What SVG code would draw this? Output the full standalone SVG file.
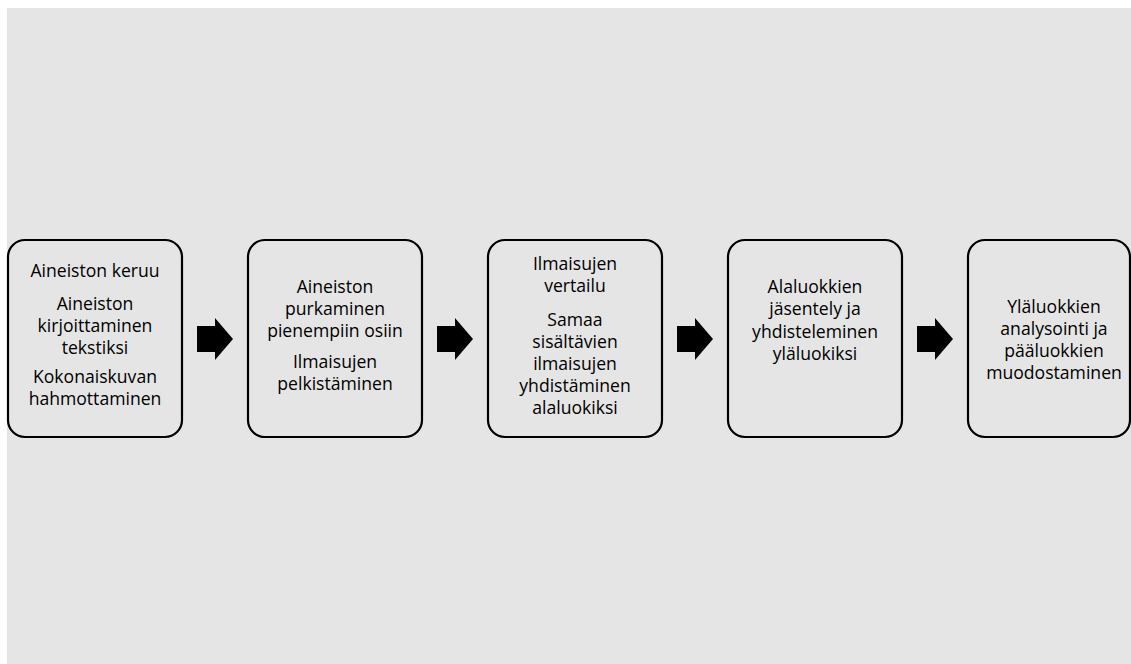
<svg xmlns="http://www.w3.org/2000/svg" width="1131" height="664" viewBox="0 0 1131 664">
  <style>
    .box { fill: #e5e5e5; stroke: #000; stroke-width: 2.2; }
    .lbl { font-family: "Open Sans", "Liberation Sans", sans-serif; font-size: 17.6px; fill: #000; text-anchor: middle; }
    .arrow { fill: #000; }
  </style>
  <defs>
    <!-- block arrow pointing right, origin at its left edge / vertical centre -->
    <path id="blockArrow" d="M0,-13 L18,-13 L18,-21 L36,0 L18,21 L18,13 L0,13 Z"/>
  </defs>

  <!-- canvas -->
  <rect x="0" y="0" width="1131" height="664" fill="#fff"/>
  <rect x="7" y="8" width="1124" height="656" fill="#e5e5e5"/>

  <g id="n1">
    <rect class="box" x="8" y="240" width="174" height="197" rx="17"/>
    <text class="lbl" x="95" y="277">Aineiston keruu</text>
    <text class="lbl" x="95" y="310">Aineiston</text>
    <text class="lbl" x="95" y="332">kirjoittaminen</text>
    <text class="lbl" x="95" y="354">tekstiksi</text>
    <text class="lbl" x="95" y="383">Kokonaiskuvan</text>
    <text class="lbl" x="95" y="405">hahmottaminen</text>
  </g>

  <g id="n2">
    <rect class="box" x="248" y="240" width="174" height="197" rx="17"/>
    <text class="lbl" x="335" y="293">Aineiston</text>
    <text class="lbl" x="335" y="315">purkaminen</text>
    <text class="lbl" x="335" y="337">pienempiin osiin</text>
    <text class="lbl" x="335" y="368">Ilmaisujen</text>
    <text class="lbl" x="335" y="390">pelkistäminen</text>
  </g>

  <g id="n3">
    <rect class="box" x="488" y="240" width="174" height="197" rx="17"/>
    <text class="lbl" x="575" y="270">Ilmaisujen</text>
    <text class="lbl" x="575" y="292">vertailu</text>
    <text class="lbl" x="575" y="326">Samaa</text>
    <text class="lbl" x="575" y="348">sisältävien</text>
    <text class="lbl" x="575" y="370">ilmaisujen</text>
    <text class="lbl" x="575" y="392">yhdistäminen</text>
    <text class="lbl" x="575" y="414">alaluokiksi</text>
  </g>

  <g id="n4">
    <rect class="box" x="728" y="240" width="174" height="197" rx="17"/>
    <text class="lbl" x="815" y="293">Alaluokkien</text>
    <text class="lbl" x="815" y="315">jäsentely ja</text>
    <text class="lbl" x="815" y="338">yhdisteleminen</text>
    <text class="lbl" x="815" y="360">yläluokiksi</text>
  </g>

  <g id="n5">
    <rect class="box" x="968" y="240" width="162" height="197" rx="17"/>
    <text class="lbl" x="1054" y="313">Yläluokkien</text>
    <text class="lbl" x="1054" y="335">analysointi ja</text>
    <text class="lbl" x="1054" y="357">pääluokkien</text>
    <text class="lbl" x="1054" y="379">muodostaminen</text>
  </g>

  <g id="connectors">
    <use href="#blockArrow" class="arrow" x="197" y="339"/>
    <use href="#blockArrow" class="arrow" x="437" y="339"/>
    <use href="#blockArrow" class="arrow" x="677" y="339"/>
    <use href="#blockArrow" class="arrow" x="917" y="339"/>
  </g>
</svg>
